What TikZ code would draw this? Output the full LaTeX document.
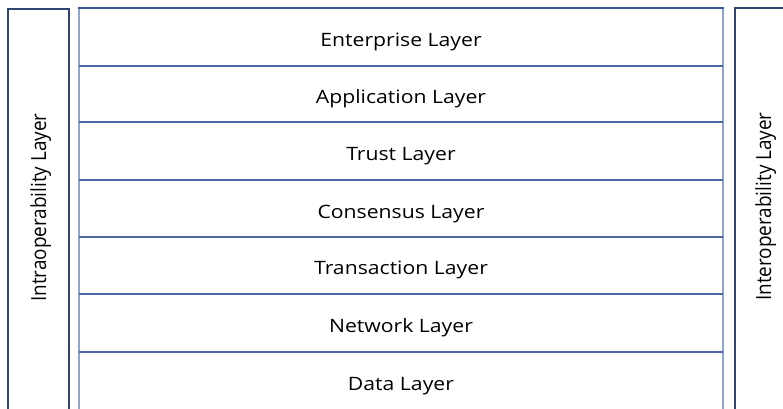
\documentclass[tikz,border=0pt]{standalone}
\usepackage{fontspec}
\setmainfont{Open Sans}
\tikzset{
  sidebox/.style={draw=sideC, line width=2bp},
  rowline/.style={draw=rowC, line width=2bp},
  edgeline/.style={draw=edgeC, line width=2bp},
  lbl/.style={font=\fontsize{18.5}{21}\selectfont, text=black, inner sep=0pt, anchor=base, xscale=1.15},
  vlbl/.style={font=\fontsize{19}{21}\selectfont, text=black, inner sep=0pt, anchor=base, rotate=90, yscale=1.1},
}
\definecolor{sideC}{HTML}{2F4470}
\definecolor{rowC}{HTML}{4A69A4}
\definecolor{edgeC}{HTML}{8FA5CB}
\definecolor{topC}{HTML}{3A5A96}
\begin{document}
\begin{tikzpicture}[x=1bp,y=-1bp]
\useasboundingbox (0,0) rectangle (783,408);
% side boxes
\draw[sidebox] (8,9) rectangle (69,420);
\draw[sidebox] (735,8) rectangle (800,420);
\node[vlbl] (intra) at (46,207.5) {Intraoperability Layer};
\node[vlbl] (inter) at (771,206.5) {Interoperability Layer};
% center stack
\draw[edgeline] (79,8) -- (79,420);
\draw[edgeline] (723,8) -- (723,420);
\draw[draw=topC, line width=2bp] (78,8) -- (724,8);
\foreach \y in {66,122,180,237,294,352} {
  \draw[rowline] (79,\y) -- (723,\y);
}
\node[lbl] (ent) at (401,46) {Enterprise Layer};
\node[lbl] (app) at (401,103) {Application Layer};
\node[lbl] (tru) at (401,160) {Trust Layer};
\node[lbl] (con) at (401,218) {Consensus Layer};
\node[lbl] (tra) at (401,274) {Transaction Layer};
\node[lbl] (net) at (401,332) {Network Layer};
\node[lbl] (dat) at (401,390) {Data Layer};
\end{tikzpicture}
\end{document}
